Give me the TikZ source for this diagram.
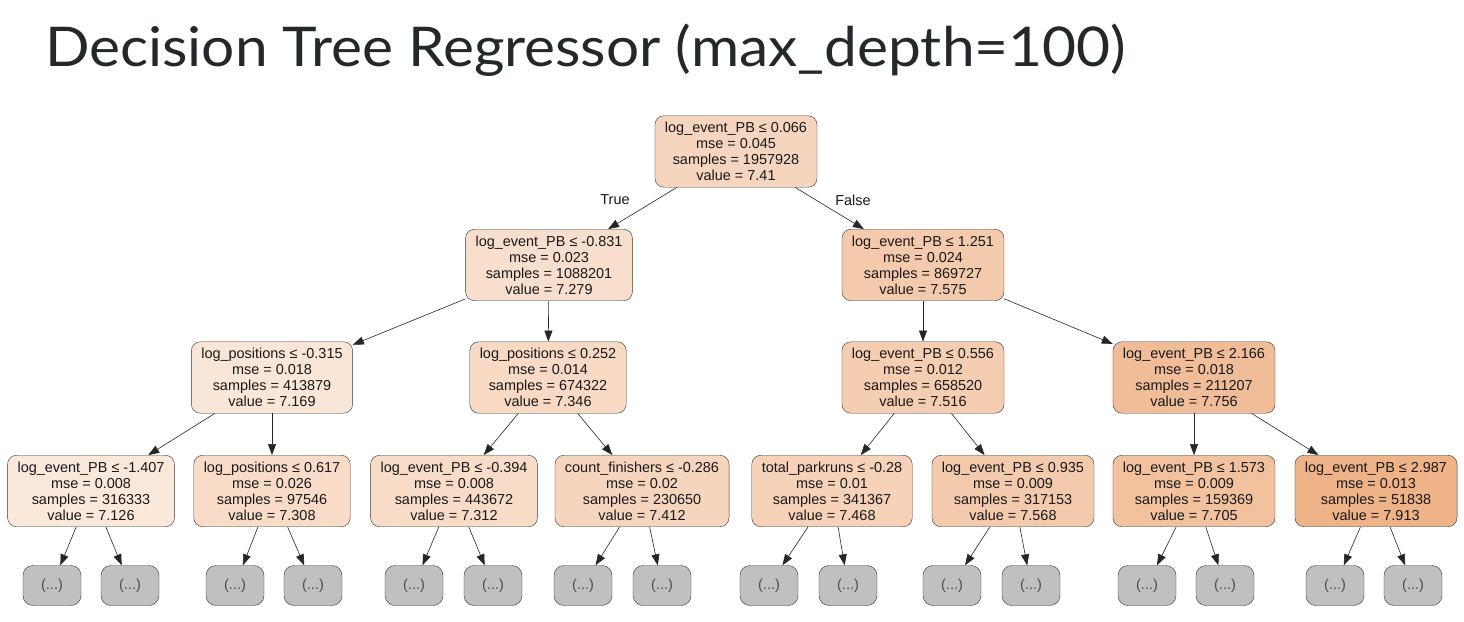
\documentclass[tikz,border=0pt]{standalone}
\usepackage{fontspec}
\setmainfont{Liberation Sans}
\newfontfamily\titlefont{Lato}
\usetikzlibrary{arrows.meta}
\definecolor{splitorange}{RGB}{229,129,57}
\definecolor{leafgray}{RGB}{192,192,192}
\definecolor{titlegray}{RGB}{35,40,43}
\tikzset{
  split/.style={draw=black!80,rounded corners=9bp,align=center,fill=splitorange!#1!white,
    font=\fontsize{14.5}{16}\selectfont,text=black!90,inner xsep=10bp,inner ysep=6.5bp},
  leaf/.style={draw=black!80,rounded corners=10bp,fill=leafgray,minimum width=58bp,minimum height=40bp,
    font=\fontsize{14.5}{16}\selectfont,text=black!70,inner sep=0pt},
  edge/.style={-{Triangle[length=11bp,width=8bp]},black!85,line width=0.6bp},
  edgelabel/.style={font=\fontsize{14.5}{16}\selectfont,text=black!90}
}
\begin{document}
\begin{tikzpicture}[x=1bp,y=-1bp]
  \useasboundingbox[fill=white] (0,0) rectangle (1464,622);
  \node[anchor=base west,inner sep=0pt,text=titlegray,font=\titlefont\fontsize{55}{60}\selectfont] (title) at (45,67) {\scalebox{1.07}[1]{Decision Tree Regressor (max\_depth=100)}};
  % root and first split
  \node[split=33] (root) at (736,151.5) {log\_event\_PB ≤ 0.066\\mse = 0.045\\samples = 1957928\\value = 7.41};
  \node[split=26] (l) at (549,265) {log\_event\_PB ≤ -0.831\\mse = 0.023\\samples = 1088201\\value = 7.279};
  \node[split=42] (r) at (923,265) {log\_event\_PB ≤ 1.251\\mse = 0.024\\samples = 869727\\value = 7.575};
  \draw[edge] (root) -- (l);
  \draw[edge] (root) -- (r);
  \node[edgelabel] (true) at (615,200) {True};
  \node[edgelabel] (false) at (853,200) {False};
  % second level
  \node[split=20] (ll) at (272,377.5) {log\_positions ≤ -0.315\\mse = 0.018\\samples = 413879\\value = 7.169};
  \node[split=30] (lr) at (548,377.5) {log\_positions ≤ 0.252\\mse = 0.014\\samples = 674322\\value = 7.346};
  \node[split=39] (rl) at (923,377.5) {log\_event\_PB ≤ 0.556\\mse = 0.012\\samples = 658520\\value = 7.516};
  \node[split=52] (rr) at (1194,377.5) {log\_event\_PB ≤ 2.166\\mse = 0.018\\samples = 211207\\value = 7.756};
  \draw[edge] (l) -- (ll);
  \draw[edge] (l) -- (lr);
  \draw[edge] (r) -- (rl);
  \draw[edge] (r) -- (rr);
  % third level
  \node[split=18] (lll) at (91,491) {log\_event\_PB ≤ -1.407\\mse = 0.008\\samples = 316333\\value = 7.126};
  \node[split=28] (llr) at (272,491) {log\_positions ≤ 0.617\\mse = 0.026\\samples = 97546\\value = 7.308};
  \node[split=28] (lrl) at (454,491) {log\_event\_PB ≤ -0.394\\mse = 0.008\\samples = 443672\\value = 7.312};
  \node[split=33] (lrr) at (642,491) {count\_finishers ≤ -0.286\\mse = 0.02\\samples = 230650\\value = 7.412};
  \node[split=36] (rll) at (832,491) {total\_parkruns ≤ -0.28\\mse = 0.01\\samples = 341367\\value = 7.468};
  \node[split=42] (rlr) at (1013,491) {log\_event\_PB ≤ 0.935\\mse = 0.009\\samples = 317153\\value = 7.568};
  \node[split=49] (rrl) at (1194,491) {log\_event\_PB ≤ 1.573\\mse = 0.009\\samples = 159369\\value = 7.705};
  \node[split=60] (rrr) at (1376,491) {log\_event\_PB ≤ 2.987\\mse = 0.013\\samples = 51838\\value = 7.913};
  \draw[edge] (ll) -- (lll);
  \draw[edge] (ll) -- (llr);
  \draw[edge] (lr) -- (lrl);
  \draw[edge] (lr) -- (lrr);
  \draw[edge] (rl) -- (rll);
  \draw[edge] (rl) -- (rlr);
  \draw[edge] (rr) -- (rrl);
  \draw[edge] (rr) -- (rrr);
  % truncated subtrees
  \foreach \n/\a/\b in {lll/52/130,llr/235/313,lrl/414/493,lrr/583/662,rll/769/848,rlr/952/1031,rrl/1147/1225,rrr/1335/1413}{
    \node[leaf] (\n a) at (\a,585.5) {(...)};
    \node[leaf] (\n b) at (\b,585.5) {(...)};
    \draw[edge] (\n) -- (\n a);
    \draw[edge] (\n) -- (\n b);
  }
\end{tikzpicture}
\end{document}
